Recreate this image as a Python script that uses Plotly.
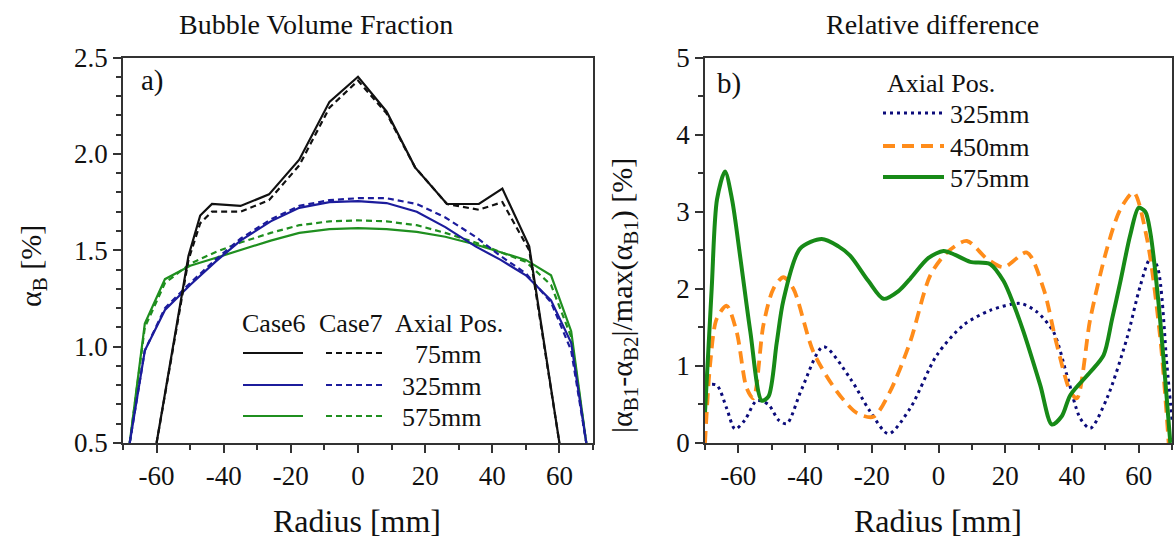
import plotly.graph_objects as go

W, H = 1175, 538
FONT = "Liberation Serif"

# ---------------- data: panel a) bubble volume fraction ----------------
r_75 = [-60, -50.5, -47, -43.5, -35, -26.5, -17.5, -8.5, 0, 8.5, 17, 26.5, 36, 43, 51, 60]
case6_75 = [0.50, 1.47, 1.68, 1.74, 1.73, 1.79, 1.97, 2.27, 2.40, 2.22, 1.93, 1.74, 1.74, 1.82, 1.52, 0.50]
case7_75 = [0.50, 1.45, 1.64, 1.70, 1.70, 1.76, 1.94, 2.24, 2.38, 2.21, 1.93, 1.74, 1.71, 1.75, 1.50, 0.50]

r_profile = [-68, -63.5, -57.5, -50, -42.5, -35, -26, -17.5, -8.5, 0, 8.5, 17.5, 26, 35, 42.5, 50, 57.5, 63.5, 68]
case6_325 = [0.50, 0.98, 1.19, 1.32, 1.44, 1.55, 1.65, 1.72, 1.75, 1.755, 1.745, 1.70, 1.62, 1.52, 1.45, 1.37, 1.24, 1.02, 0.50]
case7_325 = [0.50, 0.98, 1.20, 1.33, 1.45, 1.56, 1.66, 1.73, 1.76, 1.77, 1.77, 1.74, 1.67, 1.57, 1.47, 1.38, 1.23, 0.98, 0.50]
case6_575 = [0.50, 1.12, 1.35, 1.42, 1.46, 1.50, 1.55, 1.59, 1.61, 1.615, 1.61, 1.595, 1.57, 1.53, 1.49, 1.45, 1.37, 1.08, 0.50]
case7_575 = [0.50, 1.10, 1.33, 1.43, 1.49, 1.54, 1.59, 1.63, 1.65, 1.655, 1.65, 1.63, 1.59, 1.54, 1.49, 1.44, 1.32, 1.05, 0.50]

# ---------------- data: panel b) relative difference ----------------
r_d325 = [-70, -66.5, -63.5, -61, -58, -54.5, -51, -48, -45.5, -41, -34.5, -26.5, -20.5, -15, -8.5,
          -0.5, 7.5, 15.5, 24.5, 29.5, 34.5, 38.5, 42.5, 45.5, 50.5, 56.5, 60.5, 63.5, 65.5, 68.5, 70]
d325 = [0.75, 0.75, 0.45, 0.18, 0.30, 0.55, 0.50, 0.30, 0.25, 0.70, 1.25, 0.84, 0.41, 0.12, 0.45,
        1.14, 1.53, 1.72, 1.81, 1.70, 1.44, 0.88, 0.32, 0.19, 0.58, 1.36, 2.04, 2.39, 2.30, 1.00, 0.30]

r_d450 = [-70, -68.5, -66.5, -63.5, -60.5, -57.5, -55.5, -52.5, -49.5, -46.5, -43.5, -37.5, -30.5, -24.5,
          -19.5, -14.5, -8.5, -2.5, 2.5, 8.5, 14.5, 19.5, 26.5, 31.5, 35.5, 39.5, 41.5, 45.5, 50.5,
          54.5, 58.5, 62.5, 66.5, 69]
d450 = [0.0, 1.0, 1.61, 1.78, 1.44, 0.71, 0.58, 1.53, 2.0, 2.15, 2.0, 1.18, 0.67, 0.39,
        0.34, 0.67, 1.31, 2.17, 2.47, 2.62, 2.39, 2.28, 2.47, 2.0, 1.27, 0.67, 0.58, 1.61, 2.52,
        3.03, 3.25, 2.65, 1.35, 0.0]

r_d575 = [-70, -68, -66.4, -64, -61.9, -59.4, -56.4, -53, -51, -48.5, -46.5, -41.5, -35, -30, -26.5,
          -21, -16.5, -12, -8.5, -3, 1.5, 5, 9.5, 15.5, 19.5, 22.5, 25.5, 30.5, 34, 37, 39.5, 45.5,
          49.5, 52, 54.5, 57.5, 60, 62, 63.5, 66, 69.5]
d575 = [0.40, 2.0, 3.16, 3.52, 3.16, 2.40, 1.44, 0.55, 0.60, 1.30, 1.85, 2.52, 2.645, 2.55, 2.43,
        2.10, 1.87, 1.97, 2.13, 2.40, 2.49, 2.44, 2.35, 2.32, 2.10, 1.80, 1.44, 0.75, 0.24, 0.35, 0.62, 0.92,
        1.14, 1.60, 2.09, 2.70, 3.05, 3.00, 2.73, 1.80, 0.0]

# tick labels
x_tickvals = [-60, -40, -20, 0, 20, 40, 60]
x_ticktext = ["-60", "-40", "-20", "0", "20", "40", "60"]
ya_tickvals = [0.5, 1.0, 1.5, 2.0, 2.5]
ya_ticktext = ["0.5", "1.0", "1.5", "2.0", "2.5"]
yb_tickvals = [0, 1, 2, 3, 4, 5]
yb_ticktext = ["0", "1", "2", "3", "4", "5"]

BLACK = "#111111"
BLUE = "#1c1c9c"
GREEN = "#1f8f1f"
NAVY = "#0b0b7a"
ORANGE = "#ff8c1a"
GREEN2 = "#178a17"

fig = go.Figure()

def add(x, y, color, width, dash, xa, ya, shape="linear"):
    fig.add_trace(go.Scatter(x=x, y=y, mode="lines", xaxis=xa, yaxis=ya, showlegend=False,
                             line=dict(color=color, width=width, dash=dash, shape=shape,
                                       smoothing=0.8 if shape == "spline" else None)))

LD = "6px,4px"
add(r_profile, case6_575, GREEN, 2.2, "solid", "x", "y")
add(r_profile, case7_575, GREEN, 2.2, LD, "x", "y")
add(r_profile, case6_325, BLUE, 2.2, "solid", "x", "y")
add(r_profile, case7_325, BLUE, 2.2, LD, "x", "y")
add(r_75, case6_75, BLACK, 2.2, "solid", "x", "y")
add(r_75, case7_75, BLACK, 2.2, LD, "x", "y")

add(r_d325, d325, NAVY, 3, "3px,4px", "x2", "y2", "spline")
add(r_d450, d450, ORANGE, 3.8, "12px,7px", "x2", "y2", "spline")
add(r_d575, d575, GREEN2, 4, "solid", "x2", "y2", "spline")

def px(xp):
    return xp / W

def py(yp):
    return 1 - yp / H

axis_common = dict(
    showgrid=False, zeroline=False, showline=True, linecolor="#333333", linewidth=1.5,
    mirror=True, ticks="outside", ticklen=8, tickwidth=1.5, tickcolor="#333333",
    tickfont=dict(family=FONT, size=27, color="#111111"), automargin=False,
    tickmode="array",
)
minor_common = dict(ticks="outside", ticklen=5, tickwidth=1.5, tickcolor="#333333")

ydom = [py(443), py(57.5)]
fig.update_layout(
    width=W, height=H, margin=dict(l=0, r=0, t=0, b=0),
    paper_bgcolor="white", plot_bgcolor="white",
    xaxis=dict(domain=[px(123), px(593)], range=[-70, 70], tickvals=x_tickvals, ticktext=x_ticktext,
               minor=dict(tickvals=[-70, -50, -30, -10, 10, 30, 50, 70], **minor_common),
               anchor="y", **axis_common),
    yaxis=dict(domain=ydom, range=[0.5, 2.5], tickvals=ya_tickvals, ticktext=ya_ticktext,
               minor=dict(dtick=0.1, tick0=0, **minor_common),
               anchor="x", **axis_common),
    xaxis2=dict(domain=[px(705), px(1172)], range=[-70, 70], tickvals=x_tickvals, ticktext=x_ticktext,
                minor=dict(tickvals=[-70, -50, -30, -10, 10, 30, 50, 70], **minor_common),
                anchor="y2", **axis_common),
    yaxis2=dict(domain=ydom, range=[0, 5], tickvals=yb_tickvals, ticktext=yb_ticktext,
                minor=dict(dtick=0.5, tick0=0, **minor_common),
                anchor="x2", **axis_common),
)

ann = []
def text(t, x, y, size, xanchor="center", angle=0):
    ann.append(dict(text=t, x=px(x), y=py(y), xref="paper", yref="paper", showarrow=False,
                    xanchor=xanchor, yanchor="middle", textangle=angle,
                    font=dict(family=FONT, size=size, color="#111111")))

text("Bubble Volume Fraction", 316, 24, 28)
text("Relative difference", 933, 24, 28)
text("Radius [mm]", 357, 521, 32)
text("Radius [mm]", 938, 521, 32)
text("α<sub>B</sub> [%]", 33, 266, 30, angle=-90)
text("|α<sub>B1</sub>-α<sub>B2</sub>|/max(α<sub>B1</sub>) [%]", 624, 295, 30, angle=-90)
text("a)", 152, 81, 29)
text("b)", 729, 83, 29)

# legend panel a
text("Case6", 274, 323, 26)
text("Case7", 351, 323, 26)
text("Axial Pos.", 449, 323, 26)
text("75mm", 483, 354, 26, xanchor="right")
text("325mm", 483, 386, 26, xanchor="right")
text("575mm", 483, 417, 26, xanchor="right")

# legend panel b
text("Axial Pos.", 885, 83, 26, xanchor="left")
text("325mm", 948, 114, 26, xanchor="left")
text("450mm", 948, 147, 26, xanchor="left")
text("575mm", 948, 178, 26, xanchor="left")

shapes = []
def seg(x0, x1, y, color, width, dash):
    shapes.append(dict(type="line", xref="paper", yref="paper", x0=px(x0), x1=px(x1), y0=py(y), y1=py(y),
                       line=dict(color=color, width=width, dash=dash)))

for yy, c in [(353, BLACK), (385, BLUE), (416, GREEN)]:
    seg(243, 303, yy, c, 2.2, "solid")
    seg(326, 384, yy, c, 2.2, LD)

seg(883, 944, 113, NAVY, 3, "3px,4px")
seg(883, 944, 146, ORANGE, 3.8, "12px,7px")
seg(883, 944, 177, GREEN2, 4, "solid")

fig.update_layout(annotations=ann, shapes=shapes)
fig.write_html("out.html")
